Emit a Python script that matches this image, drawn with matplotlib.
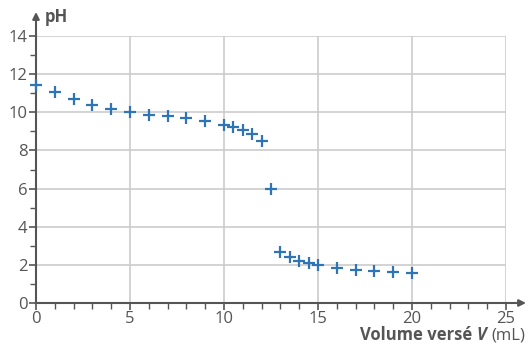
import matplotlib
matplotlib.use("Agg")
import matplotlib.pyplot as plt
from matplotlib.ticker import MultipleLocator

# données du titrage
volume = [0, 1, 2, 3, 4, 5, 6, 7, 8, 9, 10, 10.5, 11, 11.5, 12, 12.5,
          13, 13.5, 14, 14.5, 15, 16, 17, 18, 19, 20]
ph = [11.43, 11.05, 10.7, 10.38, 10.17, 10.0, 9.87, 9.8, 9.7, 9.54, 9.33,
      9.23, 9.07, 8.86, 8.5, 5.98, 2.67, 2.41, 2.22, 2.1, 1.99, 1.84, 1.74,
      1.68, 1.63, 1.58]
x_ticks = [0, 5, 10, 15, 20, 25]
y_ticks = [0, 2, 4, 6, 8, 10, 12, 14]

GRIS = "#555555"
BLEU = "#2e75b6"
plt.rcParams["font.family"] = ["Open Sans", "DejaVu Sans"]


def main() -> None:
    fig = plt.figure(figsize=(5.28, 3.47), dpi=100)
    ax = fig.add_axes([36 / 528, 1 - 303 / 347, 470 / 528, 267 / 347])

    ax.plot(volume, ph, linestyle="none", marker="+", markersize=8.5,
            markeredgewidth=1.6, color=BLEU, clip_on=False, zorder=3)

    ax.set_xlim(0, 25)
    ax.set_ylim(0, 14)
    ax.set_xticks(x_ticks)
    ax.set_yticks(y_ticks)
    ax.xaxis.set_minor_locator(MultipleLocator(1))
    ax.yaxis.set_minor_locator(MultipleLocator(1))
    ax.grid(True, which="major", color="#cccccc", linewidth=1.2)
    ax.set_axisbelow(True)

    for s in ["top", "right"]:
        ax.spines[s].set_visible(False)
    for s in ["left", "bottom"]:
        ax.spines[s].set_color(GRIS)
        ax.spines[s].set_linewidth(1.5)

    ax.tick_params(which="major", length=5, width=1.2, color=GRIS,
                   labelcolor=GRIS, labelsize=12, pad=1)
    ax.tick_params(which="minor", length=4, width=1.0, color=GRIS)

    # flèches des axes
    ax.annotate("", xy=(526 / 528, 1 - 303 / 347), xycoords="figure fraction",
                xytext=(506 / 528, 1 - 303 / 347), textcoords="figure fraction",
                arrowprops=dict(arrowstyle="-|>", color=GRIS, lw=1.5,
                                mutation_scale=10, shrinkA=0, shrinkB=0))
    ax.annotate("", xy=(36 / 528, 1 - 12 / 347), xycoords="figure fraction",
                xytext=(36 / 528, 1 - 36 / 347), textcoords="figure fraction",
                arrowprops=dict(arrowstyle="-|>", color=GRIS, lw=1.5,
                                mutation_scale=10, shrinkA=0, shrinkB=0))

    fig.text(45 / 528, 1 - 17 / 347, "pH", fontsize=12, fontweight="bold",
             color=GRIS, ha="left", va="center")

    # titre de l'axe x : gras + italique + normal
    t1 = fig.text(525 / 528, 1 - 335 / 347, "(mL)", fontsize=12,
                  color=GRIS, ha="right", va="center")
    t2 = ax.annotate("V ", xy=(0, 0.5), xycoords=t1, fontsize=12,
                     fontweight="bold", fontstyle="italic", color=GRIS,
                     ha="right", va="center")
    ax.annotate("Volume versé ", xy=(0, 0.5), xycoords=t2, fontsize=12,
                fontweight="bold", color=GRIS, ha="right", va="center")

    fig.savefig("out.png", dpi=100)
    plt.close(fig)


if __name__ == "__main__":
    main()
